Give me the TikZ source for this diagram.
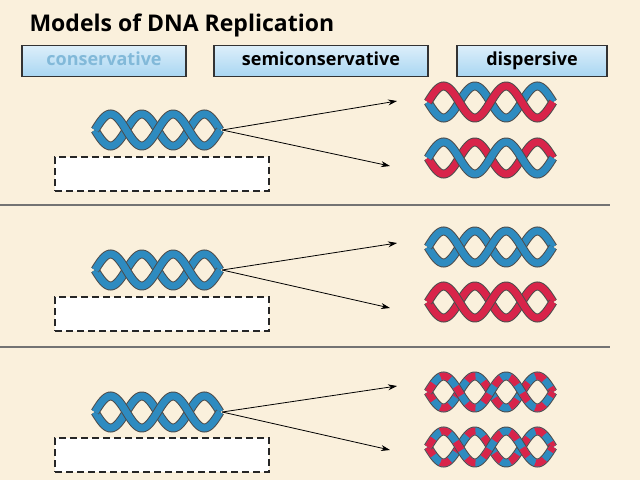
\documentclass[tikz,border=0pt]{standalone}
\usepackage{fontspec}
\setmainfont{Open Sans}
\usetikzlibrary{arrows.meta}
\definecolor{bg}{HTML}{FAF0DC}
\definecolor{dblue}{HTML}{2E8BC0}
\definecolor{dred}{HTML}{D8244A}
\definecolor{btn}{HTML}{A9D6F2}
\tikzset{
  btnbox/.style={draw=black!80,line width=1.2pt,top color=btn!40,bottom color=btn,minimum height=31pt,font=\bfseries\fontsize{18}{20}\selectfont,inner sep=0pt,text height=13pt,text depth=4pt},
  holder/.style={draw=none,minimum width=128pt,minimum height=40pt,inner sep=0pt},
  dbox/.style={draw=black!85,line width=1.3pt,dash pattern=on 7pt off 4pt,fill=white,minimum width=214pt,minimum height=34pt,inner sep=0pt},
  arr/.style={-{Stealth[length=9pt,width=6pt]},line width=0.8pt},
  sep/.style={draw=black!55,line width=2.5pt},
}
\newcommand\strand[4]{% x y phase color
  \draw[line width=9pt,black!70] plot[domain=0:125,samples=80] ({#1+\x},{#2+16*sin(\x*5.76+#3)});
  \draw[line width=7pt,#4] plot[domain=0:125,samples=80] ({#1+\x},{#2+16*sin(\x*5.76+#3)});}
\newcommand\mixstrand[3]{% x y phase
  \draw[line width=9pt,black!70] plot[domain=0:125,samples=80] ({#1+\x},{#2+16*sin(\x*5.76+#3)});
  \draw[line width=7pt,dblue] plot[domain=0:125,samples=80] ({#1+\x},{#2+16*sin(\x*5.76+#3)});
  \draw[line width=7pt,dred,dash pattern=on 10pt off 10pt] plot[domain=0:125,samples=80] ({#1+\x},{#2+16*sin(\x*5.76+#3)});}
\begin{document}
\begin{tikzpicture}[x=1pt,y=-1pt]
\fill[bg] (0,0) rectangle (640,480);
\useasboundingbox (0,0) rectangle (640,480);
\node[anchor=west,font=\bfseries\fontsize{23}{26}\selectfont] (title) at (26,25) {Models of DNA Replication};
\node[btnbox,minimum width=164pt,text=dblue!60] (b1) at (104,61) {conservative};
\node[btnbox,minimum width=214pt] (b2) at (321,61) {semiconservative};
\node[btnbox,minimum width=150pt] (b3) at (532,61) {dispersive};
\draw[sep] (0,205) -- (610,205);
\draw[sep] (0,347) -- (610,347);
% row 1
\node[dbox] (d1) at (162,174) {};
\strand{95}{130}{0}{dblue}\strand{95}{130}{180}{dblue}
\node[holder] (p1) at (158,130) {};
\strand{428}{102}{0}{dblue}\strand{428}{102}{180}{dred}
\node[holder] (a1) at (491,102) {};
\strand{428}{158}{0}{dred}\strand{428}{158}{180}{dblue}
\node[holder] (a2) at (491,158) {};
\draw[arr] (p1.east) -- (397,101);
\draw[arr] (p1.east) -- (390,166);
% row 2
\node[dbox] (d2) at (162,314) {};
\strand{95}{270}{0}{dblue}\strand{95}{270}{180}{dblue}
\node[holder] (p2) at (158,270) {};
\strand{428}{247}{0}{dblue}\strand{428}{247}{180}{dblue}
\node[holder] (a3) at (491,247) {};
\strand{428}{302}{0}{dred}\strand{428}{302}{180}{dred}
\node[holder] (a4) at (491,302) {};
\draw[arr] (p2.east) -- (397,243);
\draw[arr] (p2.east) -- (390,308);
% row 3
\node[dbox] (d3) at (162,455) {};
\strand{95}{412}{0}{dblue}\strand{95}{412}{180}{dblue}
\node[holder] (p3) at (158,412) {};
\mixstrand{428}{392}{0}\mixstrand{428}{392}{180}
\node[holder] (a5) at (491,392) {};
\mixstrand{428}{447}{0}\mixstrand{428}{447}{180}
\node[holder] (a6) at (491,447) {};
\draw[arr] (p3.east) -- (397,386);
\draw[arr] (p3.east) -- (390,450);
\end{tikzpicture}
\end{document}
